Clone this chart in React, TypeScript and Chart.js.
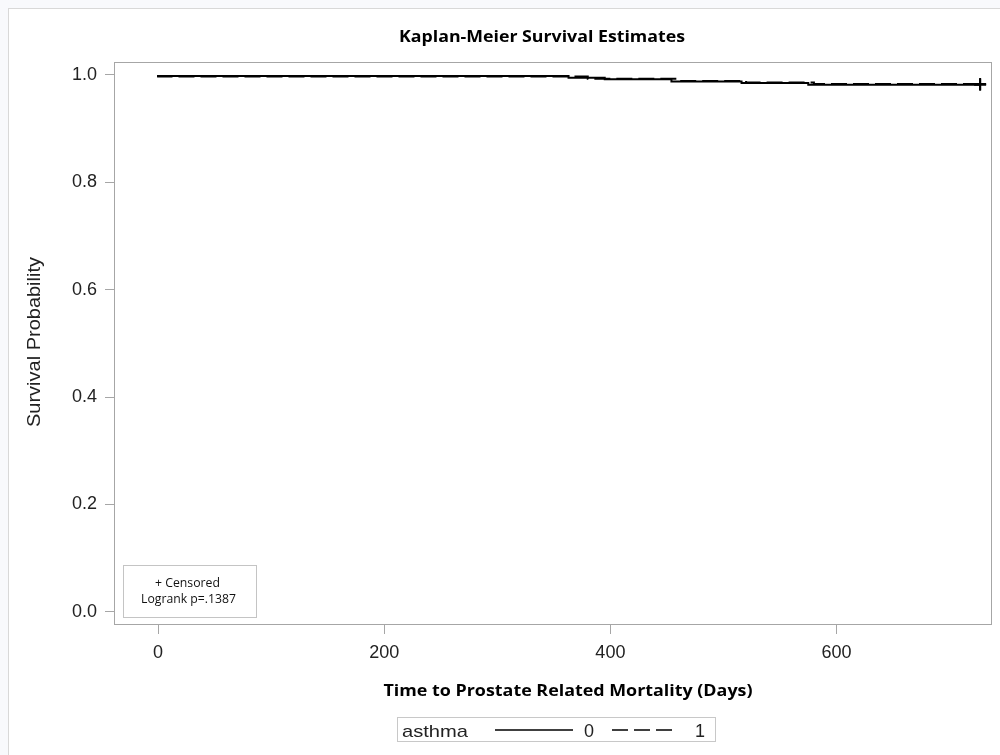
import React, { useEffect, useRef } from "react";
import { Chart, registerables } from "chart.js";

Chart.register(...registerables);

// Kaplan-Meier step estimates by asthma status
const timesAsthma0 = [0, 363, 395, 454, 516, 575, 635, 727];
const survAsthma0 = [1.0, 0.998, 0.995, 0.992, 0.988, 0.985, 0.982, 0.982];
const timesAsthma1 = [0, 380, 460, 520, 580, 640, 727];
const survAsthma1 = [1.0, 0.997, 0.993, 0.989, 0.986, 0.983, 0.983];

const xTicks = [0, 200, 400, 600];
const yTicks = [0, 0.2, 0.4, 0.6, 0.8, 1.0];

const chartTitle = "Kaplan-Meier Survival Estimates";
const xTitle = "Time to Prostate Related Mortality (Days)";
const yTitle = "Survival Probability";
const insetLines = ["+ Censored", "Logrank p=.1387"];
const legendTitle = "asthma";
const groupLabels = ["0", "1"];

const toPoints = (xs: number[], ys: number[]) => xs.map((x, i) => ({ x, y: ys[i] }));

// Draws text squeezed or widened horizontally to a given width
function fitText(
  ctx: CanvasRenderingContext2D,
  text: string,
  x: number,
  y: number,
  width: number,
  align: CanvasTextAlign
) {
  const w = ctx.measureText(text).width;
  ctx.save();
  ctx.translate(x, y);
  ctx.scale(width / w, 1);
  ctx.textAlign = align;
  ctx.textBaseline = "alphabetic";
  ctx.fillText(text, 0, 0);
  ctx.restore();
}

const decorations = {
  id: "kmDecorations",
  afterDraw(chart: any) {
    const ctx: CanvasRenderingContext2D = chart.ctx;
    const a = chart.chartArea;
    ctx.save();

    // plot frame
    ctx.strokeStyle = "#a6a6a6";
    ctx.lineWidth = 1;
    ctx.strokeRect(Math.round(a.left) + 0.5, Math.round(a.top) + 0.5, Math.round(a.right - a.left) - 1, Math.round(a.bottom - a.top) - 1);

    // chart title
    ctx.fillStyle = "#000";
    ctx.font = "bold 16px 'Open Sans'";
    fitText(ctx, chartTitle, 542, 42, 286, "center");

    // x axis title
    ctx.font = "bold 16px 'Open Sans'";
    fitText(ctx, xTitle, 568, 696, 369, "center");

    // y axis title
    ctx.fillStyle = "#222";
    ctx.font = "18px 'Liberation Sans'";
    ctx.save();
    ctx.translate(40, 342);
    ctx.rotate(-Math.PI / 2);
    fitText(ctx, yTitle, 0, 0, 170, "center");
    ctx.restore();

    // inset box with censor note and log-rank p-value
    ctx.strokeStyle = "#c4c4c4";
    ctx.lineWidth = 1;
    ctx.fillStyle = "#fff";
    ctx.fillRect(123, 565, 133, 52);
    ctx.strokeRect(123.5, 565.5, 133, 52);
    ctx.fillStyle = "#111";
    ctx.font = "12px 'Open Sans'";
    fitText(ctx, insetLines[0], 187.5, 587, 65, "center");
    fitText(ctx, insetLines[1], 188.5, 603, 95, "center");

    // legend
    ctx.strokeStyle = "#c8c8c8";
    ctx.strokeRect(397.5, 717.5, 318, 24);
    ctx.fillStyle = "#222";
    ctx.font = "17px 'Liberation Sans'";
    fitText(ctx, legendTitle, 402, 737, 66, "left");
    ctx.font = "18px 'Liberation Sans'";
    ctx.textAlign = "center";
    ctx.textBaseline = "alphabetic";
    ctx.fillText(groupLabels[0], 589, 737);
    ctx.fillText(groupLabels[1], 700, 737);
    ctx.strokeStyle = "#000";
    ctx.lineWidth = 1.5;
    ctx.beginPath();
    ctx.moveTo(495, 730);
    ctx.lineTo(573, 730);
    ctx.stroke();
    ctx.setLineDash([16, 6]);
    ctx.beginPath();
    ctx.moveTo(612, 730);
    ctx.lineTo(672, 730);
    ctx.stroke();
    ctx.setLineDash([]);

    ctx.restore();
  },
};

function KaplanMeierChart() {
  const ref = useRef<HTMLCanvasElement | null>(null);

  useEffect(() => {
    if (!ref.current) return;
    const lastOnly = (n: number) => (c: any) => (c.dataIndex === n - 1 ? 6 : 0);
    const chart = new Chart(ref.current, {
      type: "line",
      data: {
        datasets: [
          {
            label: groupLabels[0],
            data: toPoints(timesAsthma0, survAsthma0),
            stepped: "after",
            borderColor: "#000",
            borderWidth: 2,
            pointStyle: "cross",
            pointRadius: lastOnly(timesAsthma0.length),
            pointBorderColor: "#000",
            pointBorderWidth: 2,
            fill: false,
          },
          {
            label: groupLabels[1],
            data: toPoints(timesAsthma1, survAsthma1),
            stepped: "after",
            borderColor: "#000",
            borderWidth: 2,
            borderDash: [16, 6],
            pointStyle: "cross",
            pointRadius: lastOnly(timesAsthma1.length),
            pointBorderColor: "#000",
            pointBorderWidth: 2,
            fill: false,
          },
        ],
      },
      options: {
        animation: false,
        responsive: false,
        events: [],
        layout: { padding: { left: 0, top: 62, right: 6, bottom: 0 } },
        plugins: {
          legend: { display: false },
          title: { display: false },
          tooltip: { enabled: false },
        },
        scales: {
          x: {
            type: "linear",
            min: -39,
            max: 737.5,
            afterFit: (s: any) => {
              s.height = 130;
            },
            afterBuildTicks: (s: any) => {
              s.ticks = xTicks.map((v) => ({ value: v }));
            },
            border: { display: false },
            grid: {
              drawOnChartArea: false,
              drawTicks: true,
              tickLength: 9,
              tickColor: "#a6a6a6",
              color: "#a6a6a6",
            },
            ticks: {
              padding: 8,
              color: "#222",
              font: { family: "'Liberation Sans'", size: 18 },
              maxRotation: 0,
              callback: (v: any) => String(v),
            },
          },
          y: {
            type: "linear",
            min: -0.0248,
            max: 1.0242,
            afterFit: (s: any) => {
              s.width = 114;
            },
            afterBuildTicks: (s: any) => {
              s.ticks = yTicks.map((v) => ({ value: v }));
            },
            border: { display: false },
            grid: {
              drawOnChartArea: false,
              drawTicks: true,
              tickLength: 9,
              tickColor: "#a6a6a6",
              color: "#a6a6a6",
            },
            ticks: {
              padding: 8,
              color: "#222",
              font: { family: "'Liberation Sans'", size: 18 },
              callback: (v: any) => Number(v).toFixed(1),
            },
          },
        },
      },
      plugins: [decorations],
    });
    return () => chart.destroy();
  }, []);

  return (
    <canvas
      ref={ref}
      width={1000}
      height={755}
      style={{ position: "absolute", left: 0, top: 0, width: 1000, height: 755 }}
    />
  );
}

export default function App() {
  return (
    <div
      style={{
        position: "fixed",
        left: 0,
        top: 0,
        width: 1000,
        height: 755,
        background: "#f8f9fc",
        overflow: "hidden",
      }}
    >
      <div
        style={{
          position: "absolute",
          left: 8,
          top: 8,
          right: 0,
          bottom: 0,
          background: "#fff",
          borderLeft: "1px solid #d8d8d8",
          borderTop: "1px solid #d8d8d8",
        }}
      />
      <KaplanMeierChart />
    </div>
  );
}
